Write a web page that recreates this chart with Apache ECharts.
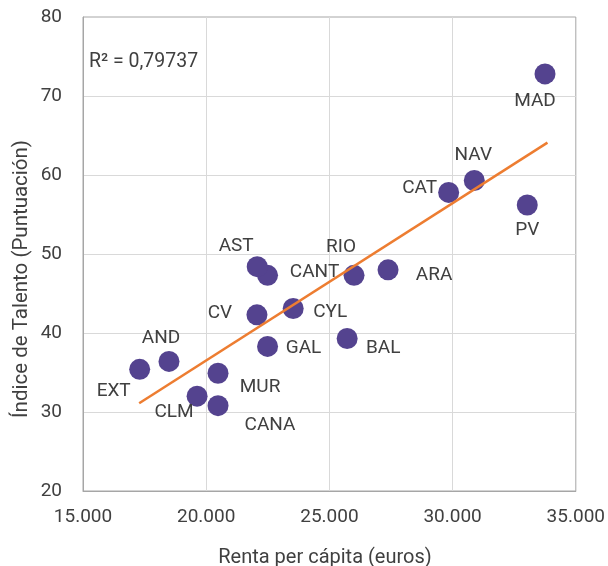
<!DOCTYPE html>
<html>
<head>
<meta charset="utf-8">
<script src="https://cdn.jsdelivr.net/npm/echarts@6/dist/echarts.min.js"></script>
<style>html,body{margin:0;padding:0;background:#fff}#c{width:608px;height:566px}</style>
</head>
<body>
<div id="c"></div>
<script>
const regions = ['MAD','NAV','CAT','PV','ARA','RIO','CANT','AST','CYL','CV','BAL','GAL','AND','EXT','MUR','CLM','CANA'];
const renta   = [33750,30880,29840,33030,27380,26000,22490,22070,23530,22060,25720,22490,18490,17300,20480,19630,20480];
const talento = [72.8,59.3,57.8,56.2,48.0,47.3,47.3,48.4,43.1,42.3,39.3,38.3,36.4,35.4,34.9,32.0,30.8];
const trendX = [17280, 33850];
const trendY = [31.1, 64.1];
const xTicks = [15000, 20000, 25000, 30000, 35000];
const yTicks = [20, 30, 40, 50, 60, 70, 80];
const r2Text = 'R\u00B2 = 0,79737';
const xTitle = 'Renta per cápita (euros)';
const yTitle = 'Índice de Talento (Puntuación)';

// label offsets (pixels) relative to each point
const labelOffsets = {
  MAD:[-10,27], NAV:[-1,-25], CAT:[-29,-4], PV:[0,25], ARA:[46,5], RIO:[-13,-28],
  CANT:[47,-3], AST:[-21,-20], CYL:[37,4], CV:[-37,-2], BAL:[36,10], GAL:[36,2],
  AND:[-8,-23], EXT:[-26,22], MUR:[42,14], CLM:[-23,16], CANA:[52,20]
};

const FONT = 'Roboto';
const TXT = '#404040';
const FS = 19;
const FW = 400;

const pts = regions.map((r,i)=>({
  value:[renta[i], talento[i]],
  name:r,
  label:{offset: labelOffsets[r]}
}));

const chart = echarts.init(document.getElementById('c'), null, {renderer:'canvas'});
chart.setOption({
  animation:false,
  backgroundColor:'#fff',
  textStyle:{fontFamily:FONT},
  grid:{left:83, right:32, top:17, bottom:75, show:true, borderColor:'#a6a6a6', borderWidth:1},
  xAxis:{
    type:'value', min:xTicks[0], max:xTicks[xTicks.length-1], interval:5000,
    axisLine:{show:true, lineStyle:{color:'#a6a6a6', width:1}},
    axisTick:{show:false},
    splitLine:{show:true, showMaxLine:false, lineStyle:{color:'#d9d9d9', width:1}},
    axisLabel:{color:TXT, fontSize:FS, fontFamily:FONT, fontWeight:FW, margin:17,
      formatter:v=>String(v).replace(/\B(?=(\d{3})+(?!\d))/g,'.')}
  },
  yAxis:{
    type:'value', min:yTicks[0], max:yTicks[yTicks.length-1], interval:10,
    axisLine:{show:true, lineStyle:{color:'#a6a6a6', width:1}},
    axisTick:{show:false},
    splitLine:{show:true, showMaxLine:false, lineStyle:{color:'#d9d9d9', width:1}},
    axisLabel:{color:TXT, fontSize:FS, fontFamily:FONT, fontWeight:FW, margin:21}
  },
  graphic:[
    {type:'text', x:89, y:62, style:{text:r2Text, fill:TXT, font:FW+' 19.5px Roboto', verticalAlign:'middle', align:'left'}},
    {type:'text', x:325, y:558, style:{text:xTitle, fill:TXT, font:FW+' 20px Roboto', verticalAlign:'middle', align:'center'}},
    {type:'text', x:22, y:279, rotation:Math.PI/2, style:{text:yTitle, fill:TXT, font:FW+' 20.5px Roboto', verticalAlign:'middle', align:'center'}}
  ],
  series:[
    {
      type:'line', data:trendX.map((x,i)=>[x,trendY[i]]), showSymbol:false, symbol:'none',
      lineStyle:{color:'#ED7D31', width:2.5}, z:3, silent:true
    },
    {
      type:'scatter', data:pts, symbolSize:21, z:2,
      itemStyle:{color:'#54438f', opacity:1},
      label:{show:true, position:'inside', formatter:p=>p.name, color:TXT, fontSize:FS, fontFamily:FONT, fontWeight:FW, align:'center', verticalAlign:'middle'}
    }
  ]
});
</script>
</body>
</html>
